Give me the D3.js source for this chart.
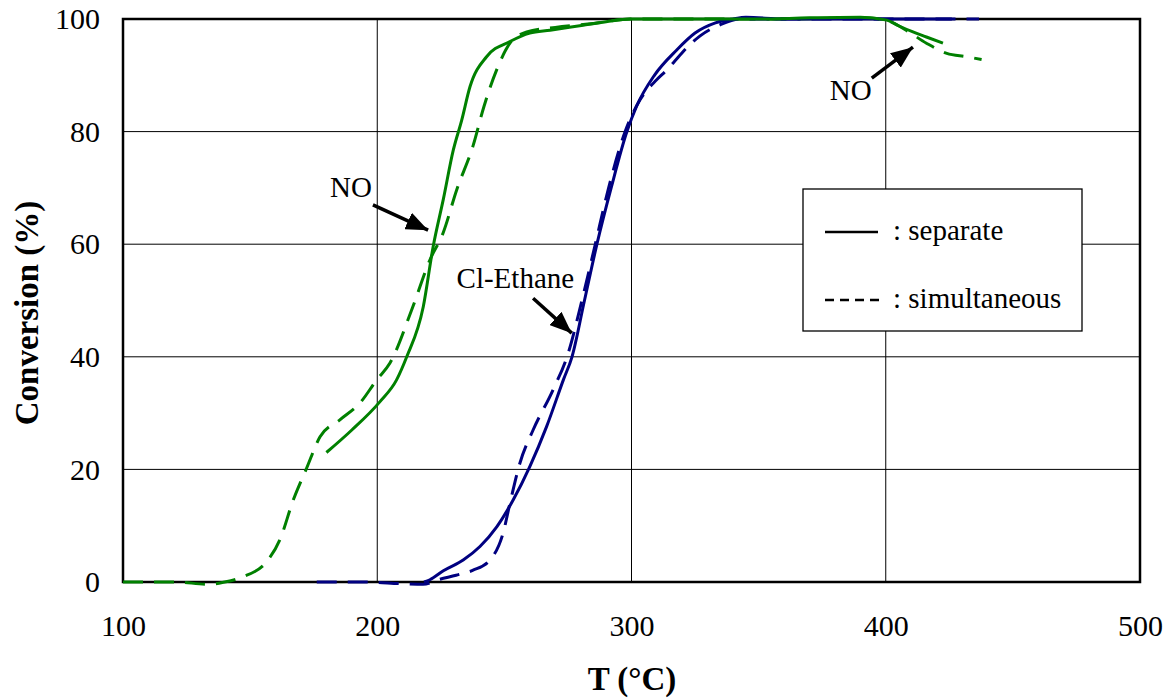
<!DOCTYPE html>
<html>
<head>
<meta charset="utf-8">
<title>Conversion vs T</title>
<script src="https://d3js.org/d3.v7.min.js"></script>
<style>
  body { margin: 0; background: #fff; }
  text { font-family: "Liberation Serif", "Times New Roman", serif; }
</style>
</head>
<body>
<div id="chart"></div>
<script>
// NO, separate (green solid)
const noSepT = [180, 190, 201, 207.6, 211.6, 218.1, 222, 226, 229.9, 233.2, 236.5, 243, 252.2, 260, 268, 281, 290, 299.4, 320, 350, 370, 390, 400.4, 405, 410.7, 416, 422.5];
const noSepC = [23, 27, 32, 35.9, 40, 48.9, 59.6, 68, 76.7, 82, 88, 93.3, 96, 97.5, 98, 98.9, 99.5, 100, 100, 100, 100.2, 100.3, 99.8, 98.8, 97.7, 96.8, 95.7];

// NO, simultaneous (green dashed)
const noSimT = [100, 120, 134, 140, 147, 156.5, 161.7, 167, 172.2, 177.5, 185.3, 193.2, 199.8, 205, 214, 220.7, 225.9, 231.2, 237.7, 242, 247, 252.2, 258.8, 270, 285, 300, 330, 360, 390, 400, 408, 416, 424, 431.8, 437.7];
const noSimC = [0, 0, -0.4, 0, 0.9, 3.6, 7.5, 14.6, 20.2, 25.8, 28.8, 31.8, 35.9, 38.9, 48.9, 57.2, 62, 69.6, 77.5, 84.5, 91, 95.7, 97.7, 98.5, 99.2, 100, 100, 100, 100.2, 99.8, 98, 95.7, 93.9, 93.3, 92.8];

// Cl-Ethane, separate (blue solid)
const clSepT = [218.4, 220.7, 226, 233.8, 240.4, 247, 253.5, 260, 266.6, 273.2, 276.6, 281.5, 286.4, 292, 298.2, 302, 309, 317.8, 325, 333, 340, 345, 360, 400, 426];
const clSepC = [0, 0.4, 2, 3.9, 6.3, 9.8, 14.6, 20.5, 27.6, 35.9, 40, 50, 60, 70, 80, 84.5, 90, 94.5, 97.5, 99.3, 100, 100.3, 100, 100, 100];

// Cl-Ethane, simultaneous (blue dashed)
const clSimT = [176.2, 195, 210, 218, 224.7, 231, 237.7, 244.3, 249.5, 252.2, 256.1, 261.3, 269.1, 275, 280.5, 285.5, 291, 297.5, 303.3, 309.9, 313.8, 316.4, 322, 327, 335, 342.7, 360, 400, 436.7];
const clSimC = [0, 0, -0.3, -0.4, 0.5, 1.2, 2.1, 3.9, 8.7, 14, 21.1, 27, 34.1, 40.5, 50, 59.5, 70, 80, 85.6, 89.2, 90.9, 92.2, 95, 97, 99, 100, 100, 100, 100];

const xTicks = [100, 200, 300, 400, 500];
const yTicks = [0, 20, 40, 60, 80, 100];

// annotations in data units: label, text pos, arrow from, arrow to
const notes = [
  {label: "NO", tx: 181.4, ty: 68.4, x1: 198.3, y1: 67, x2: 220, y2: 62.5},
  {label: "Cl-Ethane", tx: 231.2, ty: 52.2, x1: 261.3, y1: 50.4, x2: 276.5, y2: 44.2},
  {label: "NO", tx: 378, ty: 85.6, x1: 394.5, y1: 89.5, x2: 410.7, y2: 95}
];

const width = 1170, height = 698;
const margin = {top: 19, right: 30, bottom: 116, left: 123};
const w = width - margin.left - margin.right;
const h = height - margin.top - margin.bottom;

const svg = d3.select("#chart").append("svg")
  .attr("width", width)
  .attr("height", height);

const g = svg.append("g")
  .attr("transform", "translate(" + margin.left + "," + margin.top + ")");

const x = d3.scaleLinear().domain([100, 500]).range([0, w]);
const y = d3.scaleLinear().domain([0, 100]).range([h, 0]);

// grid
g.selectAll(".vgrid").data(xTicks.slice(1, -1)).enter().append("line")
  .attr("x1", d => x(d)).attr("x2", d => x(d))
  .attr("y1", 0).attr("y2", h)
  .attr("stroke", "#000").attr("stroke-width", 1);
g.selectAll(".hgrid").data(yTicks.slice(1, -1)).enter().append("line")
  .attr("x1", 0).attr("x2", w)
  .attr("y1", d => y(d)).attr("y2", d => y(d))
  .attr("stroke", "#000").attr("stroke-width", 1);

// axes (labels only)
const xAxis = g.append("g")
  .attr("transform", "translate(0," + h + ")")
  .call(d3.axisBottom(x).tickValues(xTicks).tickSize(0).tickPadding(33));
const yAxis = g.append("g")
  .call(d3.axisLeft(y).tickValues(yTicks).tickSize(0).tickPadding(23));
[xAxis, yAxis].forEach(a => {
  a.select(".domain").remove();
  a.selectAll("text")
    .attr("font-family", "Liberation Serif, Times New Roman, serif")
    .attr("font-size", "30px")
    .attr("fill", "#000");
});

// plot frame
g.append("rect")
  .attr("x", 0).attr("y", 0).attr("width", w).attr("height", h)
  .attr("fill", "none").attr("stroke", "#000").attr("stroke-width", 2.5);

// legend box
const legend = g.append("g");
legend.append("rect")
  .attr("x", 680).attr("y", 170).attr("width", 279).attr("height", 142)
  .attr("fill", "#fff").attr("stroke", "#000").attr("stroke-width", 1.3);
legend.append("line")
  .attr("x1", 702).attr("x2", 755).attr("y1", 213).attr("y2", 213)
  .attr("stroke", "#000").attr("stroke-width", 2.5);
legend.append("line")
  .attr("x1", 702).attr("x2", 757).attr("y1", 281).attr("y2", 281)
  .attr("stroke", "#000").attr("stroke-width", 2.5).attr("stroke-dasharray", "9,6");
legend.append("text").attr("x", 770).attr("y", 221)
  .attr("font-size", "29px").text(": separate");
legend.append("text").attr("x", 770).attr("y", 289)
  .attr("font-size", "29px").text(": simultaneous");

// curves
const line = d3.line()
  .x(d => x(d[0]))
  .y(d => y(d[1]))
  .curve(d3.curveMonotoneX);

const series = [
  {t: noSimT, c: noSimC, color: "#008000", dash: "20,11"},
  {t: clSimT, c: clSimC, color: "#000080", dash: "20,11"},
  {t: clSepT, c: clSepC, color: "#000080", dash: null},
  {t: noSepT, c: noSepC, color: "#008000", dash: null}
];

series.forEach(s => {
  g.append("path")
    .datum(s.t.map((t, i) => [t, s.c[i]]))
    .attr("d", line)
    .attr("fill", "none")
    .attr("stroke", s.color)
    .attr("stroke-width", 3)
    .attr("stroke-dasharray", s.dash);
});

// arrow head
svg.append("defs").append("marker")
  .attr("id", "head")
  .attr("markerUnits", "userSpaceOnUse")
  .attr("viewBox", "0 0 22 18")
  .attr("refX", 22).attr("refY", 9)
  .attr("markerWidth", 22).attr("markerHeight", 18)
  .attr("orient", "auto")
  .append("path")
  .attr("d", "M0,0 L22,9 L0,18 Z")
  .attr("fill", "#000");

notes.forEach(n => {
  g.append("text")
    .attr("x", x(n.tx)).attr("y", y(n.ty))
    .attr("font-size", "29px")
    .text(n.label);
  g.append("line")
    .attr("x1", x(n.x1)).attr("y1", y(n.y1))
    .attr("x2", x(n.x2)).attr("y2", y(n.y2))
    .attr("stroke", "#000").attr("stroke-width", 3.5)
    .attr("marker-end", "url(#head)");
});

// axis titles
svg.append("text")
  .attr("transform", "translate(38,313) rotate(-90)")
  .attr("text-anchor", "middle")
  .attr("font-weight", "bold")
  .attr("font-size", "33px")
  .text("Conversion (%)");
svg.append("text")
  .attr("x", 632).attr("y", 690)
  .attr("text-anchor", "middle")
  .attr("font-weight", "bold")
  .attr("font-size", "33px")
  .text("T (°C)");
</script>
</body>
</html>
